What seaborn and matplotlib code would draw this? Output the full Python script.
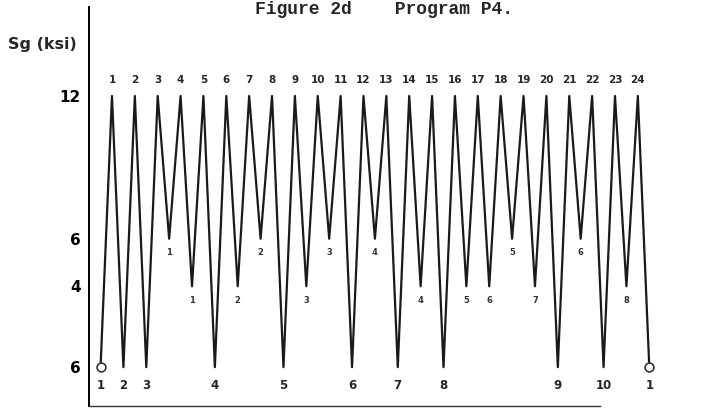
import numpy as np
import pandas as pd
import matplotlib
matplotlib.use("Agg")
import matplotlib.pyplot as plt
import seaborn as sns

# load program P4: every cycle peaks at 12 ksi, valleys at one of three levels
peak_level = 12
start_level = -6
end_level = -6
valley_levels = [-6, -6, 6, 4, -6, 4, 6, -6, 4, 6, -6, 6,
                 -6, 4, -6, 4, 4, 6, 4, -6, 6, -6, 4]
ytick_values = [12, 6, 4, -6]
ytick_labels = ["12", "6", "4", "6"]

# build the reversal sequence
levels = [start_level]
for v in valley_levels:
    levels += [peak_level, v]
levels += [peak_level, end_level]
df = pd.DataFrame({"step": np.arange(len(levels)), "sg": levels})

sns.set_theme(style="white")
plt.rcParams["font.family"] = ["DejaVu Sans"]

# piecewise scale: compress everything below 4 ksi
k = 0.34
def fwd(y):
    y = np.asarray(y, dtype=float)
    return np.where(y >= 4, y, 4 + (y - 4) * k)
def inv(t):
    t = np.asarray(t, dtype=float)
    return np.where(t >= 4, t, 4 + (t - 4) / k)

fig = plt.figure(figsize=(7.07, 4.09), dpi=100)
ax = fig.add_axes([89 / 707, 3 / 409, (655 - 89) / 707, 399 / 409])
ax.set_yscale("function", functions=(fwd, inv))

sns.lineplot(data=df, x="step", y="sg", sort=False, estimator=None,
             color="#1a1a1a", linewidth=1.6, ax=ax)
ends = df.iloc[[0, -1]]
ax.scatter(ends["step"], ends["sg"], s=40, facecolor="white",
           edgecolor="#333333", linewidth=1.2, zorder=3)

ax.set_xlim(-1.01, 48.5)
ax.set_ylim(-10.8, 15.74)
ax.set_yticks(ytick_values)
ax.set_yticklabels(ytick_labels, fontsize=11, fontweight="bold")
ax.tick_params(axis="y", direction="in", length=3, width=1, pad=6, colors="black")
ax.set_xticks([])
ax.set_xlabel("")
ax.set_ylabel("")
for s in ["top", "right"]:
    ax.spines[s].set_visible(False)
ax.spines["left"].set_color("black")
ax.spines["left"].set_linewidth(1.4)
ax.spines["bottom"].set_color("#333333")
ax.spines["bottom"].set_linewidth(1.0)
ax.spines["bottom"].set_bounds(-1.01, 43.7)

# peak numbers
peak_no = 0
counters = {-6: 1, 6: 0, 4: 0}
for i, lv in enumerate(levels):
    if lv == peak_level:
        peak_no += 1
        ax.annotate(str(peak_no), (i, lv), xytext=(0, 11.5), textcoords="offset points",
                    ha="center", va="center", fontsize=7.5, fontweight="bold")
    else:
        if i == 0:
            lab = "1"
        elif i == len(levels) - 1:
            lab = "1"
        else:
            counters[lv] += 1
            lab = str(counters[lv])
        if lv == -6:
            ax.annotate(lab, (i, lv), xytext=(0, -13), textcoords="offset points",
                        ha="center", va="center", fontsize=8.5, fontweight="bold")
        else:
            ax.annotate(lab, (i, lv), xytext=(0, -10), textcoords="offset points",
                        ha="center", va="center", fontsize=6, fontweight="bold",
                        color="#333333")

fig.text(8 / 707, 1 - 45 / 409, "Sg (ksi)", fontsize=11.5, fontweight="bold",
         ha="left", va="center")
fig.text(384 / 707, 1 - 9 / 409, "Figure 2d    Program P4.", fontsize=13,
         fontweight="bold", family=["Liberation Mono", "DejaVu Sans Mono"],
         ha="center", va="center")

fig.savefig("out.png", dpi=100)
